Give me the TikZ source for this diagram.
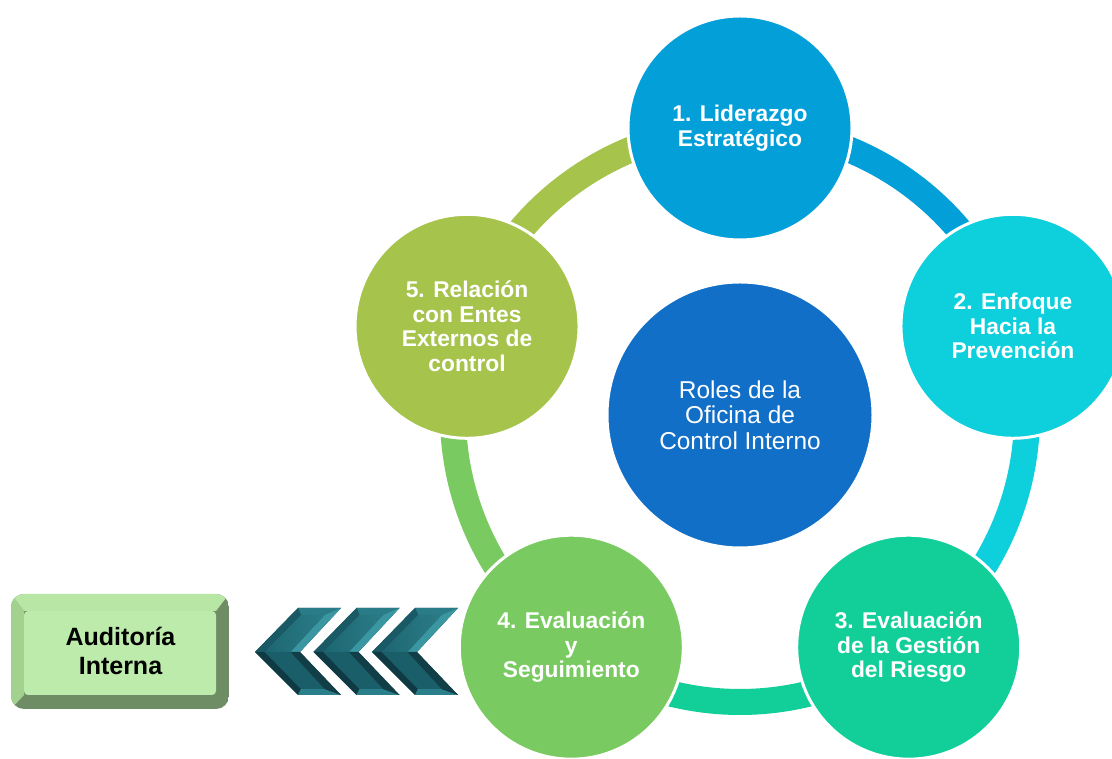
\documentclass[tikz,border=0pt]{standalone}
\usepackage{fontspec}
\setmainfont{Liberation Sans}
\definecolor{cA}{HTML}{029FD9}
\definecolor{cB}{HTML}{0DD0DC}
\definecolor{cC}{HTML}{12CF9A}
\definecolor{cD}{HTML}{7ACA62}
\definecolor{cE}{HTML}{A6C34B}
\definecolor{cCenter}{HTML}{116FC7}
\definecolor{boxFace}{HTML}{BDEBAB}
\definecolor{boxTop}{HTML}{B8E6A4}
\definecolor{boxLeft}{HTML}{A3D28F}
\definecolor{boxDark}{HTML}{6E8D65}
\definecolor{chevBase}{HTML}{174C57}
\definecolor{chevTopF}{HTML}{2A7D88}
\definecolor{chevUL}{HTML}{1A5A66}
\definecolor{chevUN}{HTML}{3A96A0}
\definecolor{chevLL}{HTML}{103A43}
\definecolor{chevBot}{HTML}{2A7F8A}
\definecolor{chevLN}{HTML}{123E47}
\definecolor{chevFaceA}{HTML}{2A7C87}
\definecolor{chevFaceB}{HTML}{1D6671}
\definecolor{chevFaceC}{HTML}{1A5E69}
\begin{document}
\begin{tikzpicture}[x=1pt,y=1pt,
  circ/.style={circle, minimum size=224pt, inner sep=0pt, draw=white, line width=3pt,
    text=white, align=center, font=\bfseries\fontsize{22.8}{24.5}\selectfont},
  ringseg/.style={line width=26pt},
  centerc/.style={circle, minimum size=266pt, inner sep=0pt, draw=white, line width=3pt,
    fill=cCenter, text=white, align=center, font=\fontsize{24.4}{25.5}\selectfont},
  boxtext/.style={text=black, align=center, font=\bfseries\fontsize{25}{29}\selectfont}]
\useasboundingbox (0,0) rectangle (1112,759);
\clip (0,0) rectangle (1112,759);
\fill[white] (0,0) rectangle (1112,759);
% ring positions
\coordinate (ctr) at (740,344);
\coordinate (p1) at ([shift={(740,344)}]90:287pt);
\coordinate (p2) at ([shift={(740,344)}]18:287pt);
\coordinate (p3) at ([shift={(740,344)}]-54:287pt);
\coordinate (p4) at ([shift={(740,344)}]-126:287pt);
\coordinate (p5) at ([shift={(740,344)}]162:287pt);
% ring segments
\draw[ringseg, draw=cA] (p1) arc[start angle=90, end angle=18, radius=287pt];
\draw[ringseg, draw=cB] (p2) arc[start angle=18, end angle=-54, radius=287pt];
\draw[ringseg, draw=cC] (p3) arc[start angle=-54, end angle=-126, radius=287pt];
\draw[ringseg, draw=cD] (p4) arc[start angle=-126, end angle=-198, radius=287pt];
\draw[ringseg, draw=cE] (p5) arc[start angle=162, end angle=90, radius=287pt];
% chevrons (bevelled)
\foreach \dx in {0,58.5,117}{
  \begin{scope}[xshift=\dx]
    \fill[chevBase] (255,107) -- (298,151) -- (341,151) -- (300,107) -- (341,64) -- (298,64) -- cycle;
    \fill[chevTopF] (298,151) -- (341,151) -- (324.5,144) -- (301,144) -- cycle;
    \fill[chevUL] (255,107) -- (298,151) -- (301,144) -- (264.7,107) -- cycle;
    \fill[chevUN] (341,151) -- (300,107) -- (290.3,107) -- (324.5,144) -- cycle;
    \fill[chevLL] (255,107) -- (264.7,107) -- (301,70) -- (298,64) -- cycle;
    \fill[chevBot] (298,64) -- (301,70) -- (324.5,70) -- (341,64) -- cycle;
    \fill[chevLN] (300,107) -- (341,64) -- (324.5,70) -- (290.3,107) -- cycle;
    \shade[left color=chevFaceB, right color=chevFaceA]
      (264.7,107) -- (301,144) -- (324.5,144) -- (290.3,107) -- cycle;
    \fill[chevFaceC] (264.7,107) -- (290.3,107) -- (324.5,70) -- (301,70) -- cycle;
  \end{scope}
}
% circles
\node[centerc] (c0) at (ctr) {Roles de la\\Oficina de\\Control Interno};
\node[circ, fill=cA] (n1) at (p1) {1. Liderazgo\\Estratégico};
\node[circ, fill=cB] (n2) at (p2) {2. Enfoque\\Hacia la\\Prevención};
\node[circ, fill=cC] (n3) at (p3) {3. Evaluación\\de la Gestión\\del Riesgo};
\node[circ, fill=cD] (n4) at (p4) {4. Evaluación\\y\\Seguimiento};
\node[circ, fill=cE] (n5) at (p5) {5. Relación\\con Entes\\Externos de\\control};
% Auditoria box
\begin{scope}
  \clip[rounded corners=13pt] (11,50) rectangle (229,165);
  \fill[boxDark] (11,50) rectangle (229,165);
  \fill[boxTop] (11,165) -- (229,165) -- (216,148) -- (24,148) -- cycle;
  \fill[boxLeft] (11,165) -- (24,148) -- (24,64) -- (11,50) -- cycle;
\end{scope}
\fill[boxFace, rounded corners=4pt] (24,64) rectangle (216,148);
\node[boxtext] (aud) at (120.5,108) {Auditoría\\Interna};
\end{tikzpicture}
\end{document}
